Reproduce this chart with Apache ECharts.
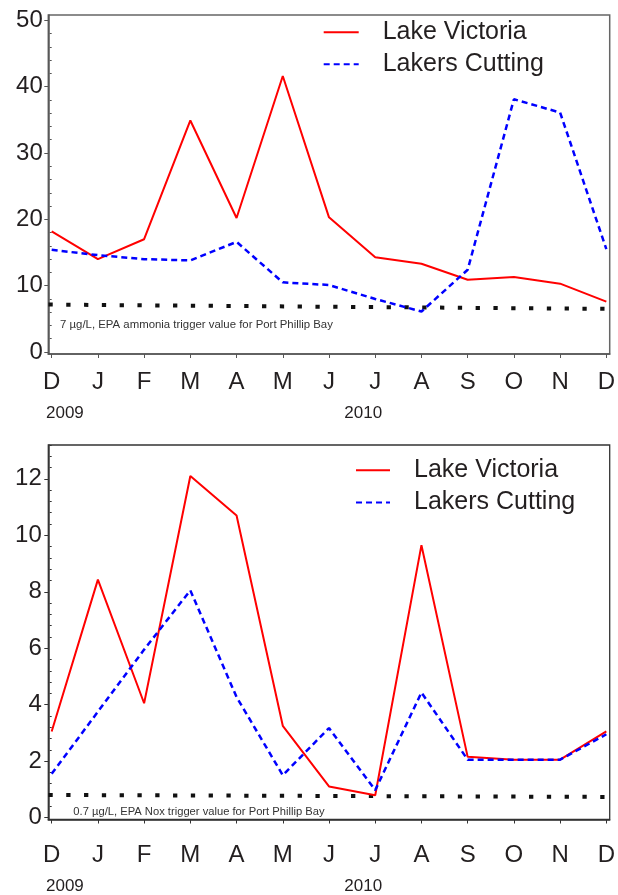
<!DOCTYPE html>
<html>
<head>
<meta charset="utf-8">
<script src="https://cdn.jsdelivr.net/npm/echarts@6/dist/echarts.min.js"></script>
<style>
html,body{margin:0;padding:0;background:#fff;}
#chart{width:618px;height:895px;}
</style>
</head>
<body>
<div id="chart"></div>
<script>
// ---- data ----
const months = ['D','J','F','M','A','M','J','J','A','S','O','N','D'];
const monthIndex = [0,1,2,3,4,5,6,7,8,9,10,11,12];
const yTicksTop = [0,10,20,30,40,50];
const yTicksBottom = [0,2,4,6,8,10,12];
const seriesNames = ['Lake Victoria','Lakers Cutting'];
const ammoniaVictoria = [18.2,14.0,17.0,34.9,20.2,41.6,20.3,14.3,13.3,10.9,11.3,10.3,7.6];
const ammoniaLakers   = [15.4,14.6,14.0,13.8,16.6,10.5,10.1,8.0,6.1,12.4,38.1,36.1,15.5];
const ammoniaTriggerX = [-0.07,12];
const ammoniaTriggerY = [7.15,6.5];
const noxVictoria = [3.05,8.43,4.05,12.1,10.7,3.25,1.1,0.79,9.65,2.15,2.05,2.05,3.05];
const noxLakers   = [1.55,3.75,5.95,8.05,4.27,1.5,3.17,0.97,4.43,2.05,2.05,2.05,2.95];
const noxTriggerX = [-0.07,12];
const noxTriggerY = [0.8,0.73];
const ammoniaNote = '7 µg/L, EPA ammonia trigger value for Port Phillip Bay';
const noxNote = '0.7 µg/L, EPA Nox trigger value for Port Phillip Bay';
const yearLabels = ['2009','2010'];

const FONT = "'Liberation Sans', Arial, sans-serif";
const TXT = '#231f20';

function pairs(xs, ys){ return ys.map((v,i)=>[xs[i], v]); }
function minorTicks(min, max, step, majorStep){
  const out=[];
  for(let v=min; v<=max+1e-9; v+=step){
    const r=Math.round(v*100)/100;
    if(Math.abs(r/majorStep-Math.round(r/majorStep))>1e-6) out.push(r);
  }
  return out;
}

const chart = echarts.init(document.getElementById('chart'), null, {renderer:'canvas'});

function xAxisFor(gridIndex, color, margin){
  return {
    type:'value', gridIndex, min:-0.073, max:12.073,
    axisLine:{show:true, onZero:false, lineStyle:{color, width:1.5}},
    axisTick:{show:true, customValues:monthIndex, length:4, lineStyle:{color, width:1}},
    axisLabel:{show:true, customValues:monthIndex, margin, fontSize:24, fontFamily:FONT, color:TXT,
      formatter:(v)=>months[Math.round(v)]},
    splitLine:{show:false}
  };
}
function yAxesFor(gridIndex, min, max, ticks, minorStep, majorStep, color, margin){
  return [{
    type:'value', gridIndex, min, max,
    axisLine:{show:true, onZero:false, lineStyle:{color, width:1.5}},
    axisTick:{show:true, customValues:ticks, length:4, lineStyle:{color, width:1}},
    axisLabel:{show:true, customValues:ticks, margin, fontSize:24, fontFamily:FONT, color:TXT},
    splitLine:{show:false}
  },{
    type:'value', gridIndex, min, max, position:'left',
    axisLine:{show:false},
    axisTick:{show:true, customValues:minorTicks(0, max, minorStep, majorStep), length:2, lineStyle:{color, width:1}},
    axisLabel:{show:false},
    splitLine:{show:false}
  }];
}

const lineRed = {color:'#ff0000', width:2, type:'solid'};
const lineBlue = {color:'#0000ff', width:2.5, type:[6,4]};
const dotted = {color:'#111', width:4, type:[4.3,13.5], cap:'butt'};

const legendBase = {data:seriesNames, orient:'vertical', padding:0, itemWidth:35, itemHeight:14, itemGap:0,
  selectedMode:false, itemStyle:{color:'rgba(0,0,0,0)', borderWidth:0, opacity:0}};

const option = {
  animation:false,
  backgroundColor:'#fff',
  grid:[
    {left:48.3, right:5.3, top:15, height:339, show:true, borderColor:'#666', borderWidth:1.5, backgroundColor:'transparent'},
    {left:48.3, right:5.7, top:445, height:374.5, show:true, borderColor:'#333', borderWidth:1.3, backgroundColor:'transparent'}
  ],
  legend:[
    Object.assign({}, legendBase, {left:322.7, top:16.3,
     textStyle:{fontSize:25, fontFamily:FONT, color:TXT, lineHeight:32, padding:[0,0,0,19]}}),
    Object.assign({}, legendBase, {left:355, top:454, itemWidth:34,
     textStyle:{fontSize:25, fontFamily:FONT, color:TXT, lineHeight:32.3, padding:[0,0,0,19]}})
  ],
  xAxis:[ xAxisFor(0,'#555',16), xAxisFor(1,'#333',24) ],
  yAxis:[
    ...yAxesFor(0,-0.3,50.8,yTicksTop,2,10,'#555',5.5),
    ...yAxesFor(1,-0.07,13.2,yTicksBottom,0.4,2,'#333',6.5)
  ],
  series:[
    {name:'trigger1', type:'line', xAxisIndex:0, yAxisIndex:0, data:pairs(ammoniaTriggerX, ammoniaTriggerY), symbol:'none', lineStyle:dotted, silent:true, z:1},
    {name:seriesNames[0], type:'line', xAxisIndex:0, yAxisIndex:0, data:pairs(monthIndex, ammoniaVictoria), symbol:'none', lineStyle:lineRed, itemStyle:{color:'#ff0000'}, z:3},
    {name:seriesNames[1], type:'line', xAxisIndex:0, yAxisIndex:0, data:pairs(monthIndex, ammoniaLakers), symbol:'none', lineStyle:lineBlue, itemStyle:{color:'#0000ff'}, z:4},
    {name:'trigger2', type:'line', xAxisIndex:1, yAxisIndex:2, data:pairs(noxTriggerX, noxTriggerY), symbol:'none', lineStyle:dotted, silent:true, z:1},
    {name:seriesNames[0], type:'line', xAxisIndex:1, yAxisIndex:2, data:pairs(monthIndex, noxVictoria), symbol:'none', lineStyle:lineRed, itemStyle:{color:'#ff0000'}, z:3},
    {name:seriesNames[1], type:'line', xAxisIndex:1, yAxisIndex:2, data:pairs(monthIndex, noxLakers), symbol:'none', lineStyle:lineBlue, itemStyle:{color:'#0000ff'}, z:4}
  ],
  graphic:[
    {type:'text', x:60, y:325, style:{text:ammoniaNote, font:'11.4px '+FONT, fill:'#333', verticalAlign:'middle'}},
    {type:'text', x:73.3, y:811.7, style:{text:noxNote, font:'11.2px '+FONT, fill:'#333', verticalAlign:'middle'}},
    {type:'text', x:46, y:413.3, style:{text:yearLabels[0], font:'17px '+FONT, fill:TXT, verticalAlign:'middle'}},
    {type:'text', x:344.3, y:413.3, style:{text:yearLabels[1], font:'17px '+FONT, fill:TXT, verticalAlign:'middle'}},
    {type:'text', x:46, y:886, style:{text:yearLabels[0], font:'17px '+FONT, fill:TXT, verticalAlign:'middle'}},
    {type:'text', x:344.3, y:886, style:{text:yearLabels[1], font:'17px '+FONT, fill:TXT, verticalAlign:'middle'}}
  ]
};
chart.setOption(option);
</script>
</body>
</html>
